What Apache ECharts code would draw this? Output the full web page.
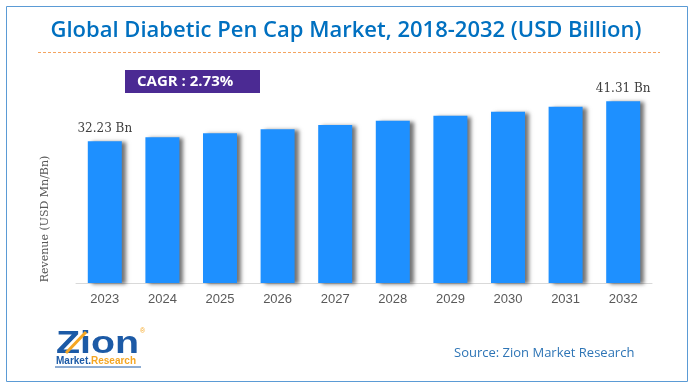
<!DOCTYPE html>
<html>
<head>
<meta charset="utf-8">
<script src="https://cdn.jsdelivr.net/npm/echarts@6/dist/echarts.min.js"></script>
<style>
html,body{margin:0;padding:0;background:#fff;}
#chart{width:694px;height:389px;}
</style>
</head>
<body>
<div id="chart"></div>
<script>
const categories = ['2023','2024','2025','2026','2027','2028','2029','2030','2031','2032'];
const revenue = [32.23, 33.11, 34.02, 34.95, 35.90, 36.89, 38.02, 38.93, 40.05, 41.31];
const labelledIdx = [0, 9];
const titleText = 'Global Diabetic Pen Cap Market, 2018-2032 (USD Billion)';
const cagrText = 'CAGR : 2.73%';
const yAxisName = 'Revenue (USD Mn/Bn)';
const sourceText = 'Source: Zion Market Research';

const chart = echarts.init(document.getElementById('chart'), null, {renderer:'canvas'});

const seriesData = revenue.map((v, i) => ({
  value: v,
  label: { show: labelledIdx.indexOf(i) >= 0 }
}));

chart.setOption({
  animation: false,
  backgroundColor: '#ffffff',
  grid: { left: 76, right: 42, top: 63, bottom: 106 },
  xAxis: {
    type: 'category',
    data: categories,
    axisTick: { show: false },
    axisLine: { lineStyle: { color: '#d9d9d9', width: 1 } },
    axisLabel: { color: '#595959', fontSize: 13, fontFamily: 'Liberation Sans', margin: 10 }
  },
  yAxis: {
    type: 'value', min: 0, max: 50, show: false
  },
  series: [{
    type: 'bar',
    data: seriesData,
    barWidth: 34,
    itemStyle: {
      color: '#1e90ff',
      shadowColor: 'rgba(0,0,0,0.55)',
      shadowBlur: 4,
      shadowOffsetX: 4,
      shadowOffsetY: 1
    },
    label: {
      position: 'top',
      distance: 6,
      color: '#404040',
      fontSize: 12,
      fontFamily: 'DejaVu Serif',
      formatter: p => p.value.toFixed(2) + ' Bn'
    }
  }],
  graphic: [
    { type: 'rect', shape: { x: 6.5, y: 6.5, width: 681, height: 375 },
      style: { fill: 'none', stroke: '#5b9bd5', lineWidth: 1 }, z: 100 },
    { type: 'text', x: 346, y: 31, scaleX: 1.0,
      style: { text: titleText, fill: '#0070c0', font: '600 22px "Open Sans"', textAlign: 'center', textVerticalAlign: 'middle' } },
    { type: 'line', shape: { x1: 38, y1: 52.5, x2: 660, y2: 52.5 },
      style: { stroke: '#f4a460', lineWidth: 1, lineDash: [3, 2] } },
    { type: 'rect', shape: { x: 125, y: 70, width: 135, height: 23 }, style: { fill: '#4b2a93' } },
    { type: 'text', x: 137, y: 82,
      style: { text: cagrText, fill: '#ffffff', font: 'bold 15px "Open Sans"', textAlign: 'left', textVerticalAlign: 'middle' } },
    { type: 'text', x: 45, y: 219, rotation: Math.PI / 2,
      style: { text: yAxisName, fill: '#595959', font: '11px "DejaVu Serif"', textAlign: 'center', textVerticalAlign: 'middle' } },
    { type: 'text', x: 454, y: 353,
      style: { text: sourceText, fill: '#2e75b6', font: '13px "Open Sans"', textAlign: 'left', textVerticalAlign: 'middle' } },
    // logo
    { type: 'text', x: 56, y: 344, scaleX: 1.27,
      style: { text: 'Zion', fill: '#1c5aa6', font: 'bold 31px "Liberation Sans"', textAlign: 'left', textVerticalAlign: 'middle' } },
    { type: 'line', shape: { x1: 66, y1: 353, x2: 86, y2: 332 },
      style: { stroke: '#f5a623', lineWidth: 3 } },
    { type: 'text', x: 140, y: 331,
      style: { text: '®', fill: '#f5a623', font: '7px "Liberation Sans"', textAlign: 'left', textVerticalAlign: 'middle' } },
    { type: 'text', x: 56, y: 361,
      style: { text: 'Market.', fill: '#1c5aa6', font: 'bold 10px "Liberation Sans"', textAlign: 'left', textVerticalAlign: 'middle' } },
    { type: 'text', x: 91, y: 361,
      style: { text: 'Research', fill: '#f5a623', font: 'bold 10px "Liberation Sans"', textAlign: 'left', textVerticalAlign: 'middle' } },
    { type: 'line', shape: { x1: 55, y1: 367, x2: 141, y2: 367 },
      style: { stroke: '#1c5aa6', lineWidth: 1 } }
  ]
});
</script>
</body>
</html>
